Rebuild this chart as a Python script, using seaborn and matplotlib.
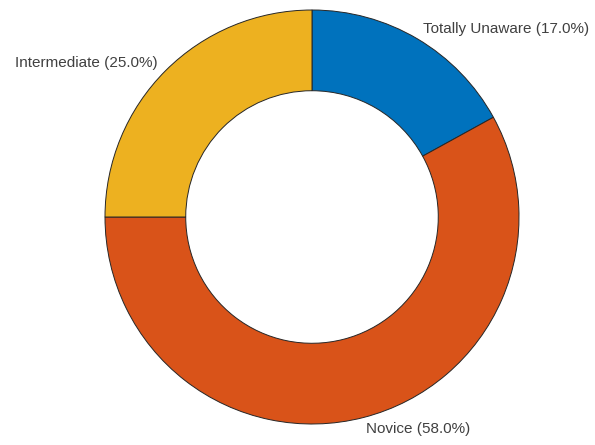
import numpy as np
import matplotlib
matplotlib.use("Agg")
import matplotlib.pyplot as plt
import seaborn as sns

categories = ["Totally Unaware", "Novice", "Intermediate"]
values = [17.0, 58.0, 25.0]
colors = ["#0072BD", "#D95319", "#EDB120"]

sns.set_style("white")
plt.rcParams['font.family'] = ['Liberation Sans', 'DejaVu Sans']

W, H = 595, 445
cx, cy, R = 312, 217, 207
fig = plt.figure(figsize=(W / 100, H / 100), dpi=100)
ax = fig.add_axes([0, 0, 1, 1])

wedges, _ = ax.pie(values, colors=colors, startangle=90, counterclock=False,
                   radius=1.0, wedgeprops=dict(width=0.39, edgecolor='#262626', linewidth=0.7))

ax.set_aspect('equal', adjustable='box')
ax.set_xlim(-cx / R, (W - cx) / R)
ax.set_ylim(-(H - cy) / R, cy / R)
ax.axis('off')

total = sum(values)
start = 90.0
for cat, v in zip(categories, values):
    ang = start - v / total * 360 / 2
    start -= v / total * 360
    a = np.deg2rad(ang)
    r = 1.055
    x, y = r * np.cos(a), r * np.sin(a)
    ha = 'left' if np.cos(a) > 0 else 'right'
    ax.text(x, y, f"{cat} ({v:.1f}%)", ha=ha, va='center', fontsize=11, color='#404040')

fig.savefig("out.png", dpi=100)
